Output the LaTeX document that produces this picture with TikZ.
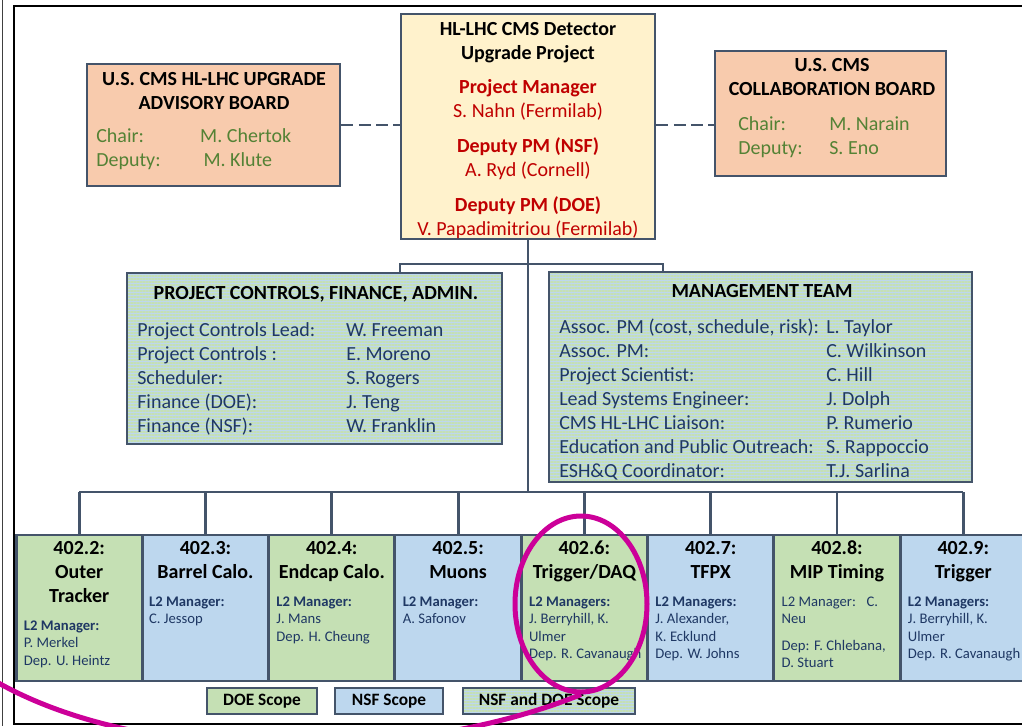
\documentclass[tikz,border=0pt]{standalone}
\usepackage{fontspec}
\setmainfont{Carlito}
\usetikzlibrary{positioning,patterns.meta,shapes.geometric}
\definecolor{slateline}{HTML}{44546A}
\definecolor{peach}{HTML}{F8CBAD}
\definecolor{paleyellow}{HTML}{FFF2CC}
\definecolor{doegreen}{HTML}{C5E0B4}
\definecolor{nsfblue}{HTML}{BDD7EE}
\definecolor{navytext}{HTML}{1F3864}
\definecolor{boardgreen}{HTML}{548235}
\definecolor{pmred}{HTML}{C00000}
\definecolor{markmagenta}{HTML}{CC0099}
\newcommand{\bigfont}{\fontsize{15}{18}\selectfont}
\newcommand{\smallfont}{\fontsize{11}{13}\selectfont}
\newcommand{\legfont}{\fontsize{13}{15}\selectfont}

\begin{document}
\begin{tikzpicture}[x=0.75pt,y=-0.75pt, % one unit = one pixel, y downwards
	every node/.style={inner sep=0pt},
	box/.style={draw=slateline,line width=2.2pt},
	conn/.style={slateline,line width=2.2pt},
	dashconn/.style={slateline,line width=2.2pt,dash pattern=on 9pt off 4pt},
	striped/.style={preaction={fill=nsfblue},pattern={Lines[angle=0,distance=2.25pt,line width=1.1pt]},pattern color=doegreen},
	wbs/.style={box,minimum width=94.7pt,minimum height=109.5pt},
	wbstitle/.style={anchor=base,font=\bigfont\bfseries},
	wbsnames/.style={anchor=base west,font=\smallfont,text=navytext},
	legend/.style={box,line width=2pt,minimum height=19.5pt,font=\legfont\bfseries},
	markline/.style={markmagenta,line width=3.75pt}]
	\clip (0,0) rectangle (1022,726);
	% page frame
	\draw[black!75,line width=0.8pt] (2.5,0) -- (2.5,726);
	\draw[black,line width=1.1pt] (14,6) rectangle (1040,724);

	% top row
	\node[box,fill=peach,minimum width=189.75pt,minimum height=91.5pt] (adv) at (213.5,125) {};
	\node[box,fill=paleyellow,minimum width=190.5pt,minimum height=168.75pt] (proj) at (528,126.5) {};
	\node[box,fill=peach,minimum width=173.25pt,minimum height=93.75pt] (collab) at (830.5,113.5) {};
	\node[anchor=base,font=\bigfont\bfseries] (advt) at (214,85)
		{\begin{tabular}[t]{@{}c@{}}U.S. CMS HL-LHC UPGRADE\\ADVISORY BOARD\end{tabular}};
	\node[anchor=base west,font=\bigfont,text=boardgreen] (advr) at (96,142.7)
		{\begin{tabular}[t]{@{}p{78pt}@{}l@{}}Chair: & M. Chertok\\Deputy: & \,M. Klute\end{tabular}};
	\node[anchor=base,font=\bigfont,text=pmred] (projt) at (528,35)
		{\begin{tabular}[t]{@{}c@{}}
			\color{black}\bfseries HL-LHC CMS Detector\\
			\color{black}\bfseries Upgrade Project\\[8pt]
			\bfseries Project Manager\\
			S. Nahn (Fermilab)\\[8pt]
			\bfseries Deputy PM (NSF)\\
			A. Ryd (Cornell)\\[8pt]
			\bfseries Deputy PM (DOE)\\
			V. Papadimitriou (Fermilab)
		\end{tabular}};
	\node[anchor=base,font=\bigfont\bfseries] (collabt) at (832,71.7)
		{\begin{tabular}[t]{@{}c@{}}U.S. CMS\\COLLABORATION BOARD\end{tabular}};
	\node[anchor=base west,font=\bigfont,text=boardgreen] (collabr) at (738,130)
		{\begin{tabular}[t]{@{}p{68.25pt}@{}l@{}}Chair: & M. Narain\\Deputy: & S. Eno\end{tabular}};
	\draw[dashconn] (adv.east) -- (adv.east -| proj.west);
	\draw[dashconn] (adv.east -| proj.east) -- (adv.east -| collab.west);

	% middle row
	\node[box,striped,minimum width=281.25pt,minimum height=128.25pt] (pcf) at (314.5,358.5) {};
	\node[box,striped,minimum width=317.25pt,minimum height=157.5pt] (mt) at (760.5,377) {};
	\node[anchor=base,font=\bigfont\bfseries] (pcft) at (316,299) {PROJECT CONTROLS, FINANCE, ADMIN.};
	\node[anchor=base west,font=\bigfont,text=navytext] (pcfr) at (137,336)
		{\begin{tabular}[t]{@{}p{156.75pt}@{}l@{}}
			Project Controls Lead: & W. Freeman\\
			Project Controls : & E. Moreno\\
			Scheduler: & S. Rogers\\
			Finance (DOE): & J. Teng\\
			Finance (NSF): & W. Franklin
		\end{tabular}};
	\node[anchor=base,font=\bigfont\bfseries] (mtt) at (762,297) {MANAGEMENT TEAM};
	\node[anchor=base west,font=\bigfont,text=navytext] (mtr) at (559,333)
		{\begin{tabular}[t]{@{}p{200.25pt}@{}l@{}}
			Assoc. PM (cost, schedule, risk): & L. Taylor\\
			Assoc. PM: & C. Wilkinson\\
			Project Scientist: & C. Hill\\
			Lead Systems Engineer: & J. Dolph\\
			CMS HL-LHC Liaison: & P. Rumerio\\
			Education and Public Outreach: & S. Rappoccio\\
			ESH\&Q Coordinator: & T.J. Sarlina
		\end{tabular}};
	\coordinate (ub1) at (400,264);
	\coordinate (ub2) at (663,264);
	\coordinate (lb) at (528,492);
	\draw[conn] (proj.south) -- (lb);
	\draw[conn] (pcf.north -| ub1) -- (ub1) -- (ub2) -- (mt.north -| ub2);

	% level-2 boxes
	\foreach \i/\col in {2/doegreen,3/nsfblue,4/doegreen,5/nsfblue,6/doegreen,7/nsfblue,8/doegreen,9/nsfblue}
		\node[wbs,fill=\col] (b\i) at ({79.2+(\i-2)*126.3},608) {};
	\draw[conn] (b2.north |- lb) -- (b9.north |- lb);
	\foreach \i in {2,...,9}
		\draw[conn] (b\i.north |- lb) -- (b\i.north);

	\node[wbstitle] (b2t) at ([shift={(0,21)}]b2.north) {\begin{tabular}[t]{@{}c@{}}402.2:\\Outer\\Tracker\end{tabular}};
	\node[wbstitle] (b3t) at ([shift={(0,21)}]b3.north) {\begin{tabular}[t]{@{}c@{}}402.3:\\Barrel Calo.\end{tabular}};
	\node[wbstitle] (b4t) at ([shift={(0,21)}]b4.north) {\begin{tabular}[t]{@{}c@{}}402.4:\\Endcap Calo.\end{tabular}};
	\node[wbstitle] (b5t) at ([shift={(0,21)}]b5.north) {\begin{tabular}[t]{@{}c@{}}402.5:\\Muons\end{tabular}};
	\node[wbstitle] (b6t) at ([shift={(0,21)}]b6.north) {\begin{tabular}[t]{@{}c@{}}402.6:\\Trigger/DAQ\end{tabular}};
	\node[wbstitle] (b7t) at ([shift={(0,21)}]b7.north) {\begin{tabular}[t]{@{}c@{}}402.7:\\TFPX\end{tabular}};
	\node[wbstitle] (b8t) at ([shift={(0,21)}]b8.north) {\begin{tabular}[t]{@{}c@{}}402.8:\\MIP Timing\end{tabular}};
	\node[wbstitle] (b9t) at ([shift={(0,21)}]b9.north) {\begin{tabular}[t]{@{}c@{}}402.9:\\Trigger\end{tabular}};

	\node[wbsnames] (b2m) at ([shift={(9,97)}]b2.north west)
		{\begin{tabular}[t]{@{}l@{}}\bfseries L2 Manager:\\P. Merkel\\Dep. U. Heintz\end{tabular}};
	\node[wbsnames] (b3m) at ([shift={(8,73)}]b3.north west)
		{\begin{tabular}[t]{@{}l@{}}\bfseries L2 Manager:\\C. Jessop\end{tabular}};
	\node[wbsnames] (b4m) at ([shift={(9,73)}]b4.north west)
		{\begin{tabular}[t]{@{}l@{}}\bfseries L2 Manager:\\J. Mans\\Dep. H. Cheung\end{tabular}};
	\node[wbsnames] (b5m) at ([shift={(9,73)}]b5.north west)
		{\begin{tabular}[t]{@{}l@{}}\bfseries L2 Manager:\\A. Safonov\end{tabular}};
	\node[wbsnames] (b6m) at ([shift={(9,73)}]b6.north west)
		{\begin{tabular}[t]{@{}l@{}}\bfseries L2 Managers:\\J. Berryhill, K.\\Ulmer\\Dep. R. Cavanaugh\end{tabular}};
	\node[wbsnames] (b7m) at ([shift={(9,73)}]b7.north west)
		{\begin{tabular}[t]{@{}l@{}}\bfseries L2 Managers:\\J. Alexander,\\K. Ecklund\\Dep. W. Johns\end{tabular}};
	\node[wbsnames] (b8m) at ([shift={(9,73)}]b8.north west)
		{\begin{tabular}[t]{@{}l@{}}L2 Manager:\enspace\ C.\\Neu\\[7pt]Dep: F. Chlebana,\\D. Stuart\end{tabular}};
	\node[wbsnames] (b9m) at ([shift={(9,73)}]b9.north west)
		{\begin{tabular}[t]{@{}l@{}}\bfseries L2 Managers:\\J. Berryhill, K.\\Ulmer\\Dep. R. Cavanaugh\end{tabular}};

	% legend
	\node[legend,fill=doegreen,minimum width=82.5pt] (doe) at (262,701) {DOE Scope};
	\node[legend,fill=nsfblue,minimum width=81pt] (nsf) at (389,701) {NSF Scope};
	\node[legend,striped,minimum width=129pt] (both) at (549,701) {NSF and DOE Scope};

	% hand-drawn mark
	\node[draw=markmagenta,line width=3.75pt,ellipse,minimum width=99pt,minimum height=132pt] (hl) at (581,604) {};
	\coordinate (offleft) at (-5,681);
	\draw[markline] (hl.south) .. controls (420,760) and (150,770) .. (offleft);
\end{tikzpicture}
\end{document}
